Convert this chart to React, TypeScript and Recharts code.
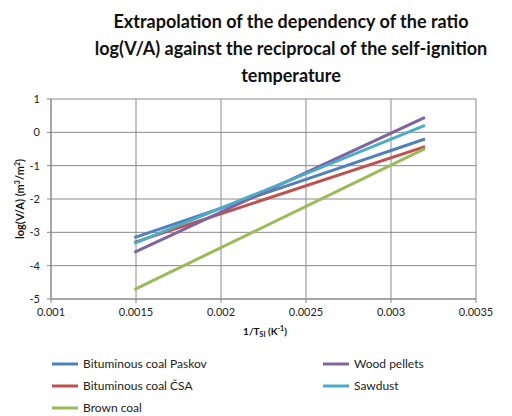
import React from "react";
import { LineChart, Line, XAxis, YAxis, CartesianGrid } from "recharts";

// Straight-line extrapolations of log(V/A) vs 1/T_SI, start and end points
const xStart = 0.00149;
const xEnd = 0.0032;

const seriesNames = [
  "Bituminous coal Paskov",
  "Bituminous coal ČSA",
  "Brown coal",
  "Wood pellets",
  "Sawdust",
];
const seriesColors = ["#4F81BD", "#C0504D", "#9BBB59", "#8064A2", "#4BACC6"];
const startValues = [-3.16, -3.3, -4.72, -3.6, -3.33];
const endValues = [-0.2, -0.43, -0.49, 0.45, 0.21];

const xTicks = [0.001, 0.0015, 0.002, 0.0025, 0.003, 0.0035];
const yTicks = [-5, -4, -3, -2, -1, 0, 1];

const titleLines = [
  "Extrapolation of the dependency of the ratio",
  "log(V/A) against the reciprocal of the self-ignition",
  "temperature",
];

const FONT = "Lato, 'Open Sans', sans-serif";

const series = seriesNames.map((name, i) => ({
  name,
  color: seriesColors[i],
  data: [
    { x: xStart, y: startValues[i] },
    { x: xEnd, y: endValues[i] },
  ],
}));

// legend layout: left column then right column
const legendOrder = [
  { idx: 0, col: 0, row: 0 },
  { idx: 3, col: 1, row: 0 },
  { idx: 1, col: 0, row: 1 },
  { idx: 4, col: 1, row: 1 },
  { idx: 2, col: 0, row: 2 },
];

export default function App() {
  return (
    <div style={{ position: "absolute", left: 0, top: 0, width: 512, height: 416, background: "#fff", fontFamily: FONT }}>
      <div style={{ position: "absolute", left: 76, width: 430, top: 8, textAlign: "center", fontWeight: 700, fontSize: 18, lineHeight: "27px", color: "#111" }}>
        {titleLines.map((t) => (
          <div key={t}>{t}</div>
        ))}
      </div>
      <div style={{ position: "absolute", left: 0, top: 0 }}>
        <LineChart width={512} height={416} margin={{ top: 99, right: 36, bottom: 97, left: 0 }}>
          <CartesianGrid stroke="#8a8a8a" strokeWidth={1} />
          <XAxis
            type="number"
            dataKey="x"
            domain={[0.001, 0.0035]}
            ticks={xTicks}
            tickFormatter={(v: number) => String(v)}
            height={20}
            allowDuplicatedCategory={false}
            stroke="#868686"
            tickSize={4}
            tickMargin={5}
            tick={{ fill: "#222", fontSize: 11, fontFamily: FONT }}
          />
          <YAxis
            type="number"
            dataKey="y"
            domain={[-5, 1]}
            ticks={yTicks}
            width={51}
            stroke="#868686"
            tickSize={4}
            tickMargin={7}
            tick={{ fill: "#222", fontSize: 11, fontFamily: FONT }}
          />
          {series.map((s) => (
            <Line
              key={s.name}
              data={s.data}
              dataKey="y"
              name={s.name}
              stroke={s.color}
              strokeWidth={3}
              dot={false}
              isAnimationActive={false}
            />
          ))}
        </LineChart>
      </div>
      <svg width={512} height={416} style={{ position: "absolute", left: 0, top: 0, pointerEvents: "none" }}>
        <text
          transform="translate(24,199) rotate(-90)"
          textAnchor="middle"
          fontSize={11}
          fontWeight={700}
          fontFamily={FONT}
          fill="#111"
        >
          log(V/A) (m<tspan fontSize={7} dy={-4}>3</tspan>
          <tspan dy={4}>/m</tspan>
          <tspan fontSize={7} dy={-4}>2</tspan>
          <tspan dy={4}>)</tspan>
        </text>
        <text x={265} y={335} textAnchor="middle" fontSize={10} fontWeight={700} fontFamily={FONT} fill="#111">
          1/T<tspan fontSize={7} dy={2}>SI</tspan>
          <tspan dy={-2}> (K</tspan>
          <tspan fontSize={7} dy={-4}>-1</tspan>
          <tspan dy={4}>)</tspan>
        </text>
        {legendOrder.map(({ idx, col, row }) => {
          const lx = col === 0 ? 52 : 323;
          const ly = 364 + row * 22;
          return (
            <g key={idx}>
              <line x1={lx} x2={lx + 26} y1={ly} y2={ly} stroke={seriesColors[idx]} strokeWidth={3} />
              <text x={lx + 31} y={ly + 4} fontSize={12} fontFamily={FONT} fill="#222">
                {seriesNames[idx]}
              </text>
            </g>
          );
        })}
      </svg>
    </div>
  );
}
